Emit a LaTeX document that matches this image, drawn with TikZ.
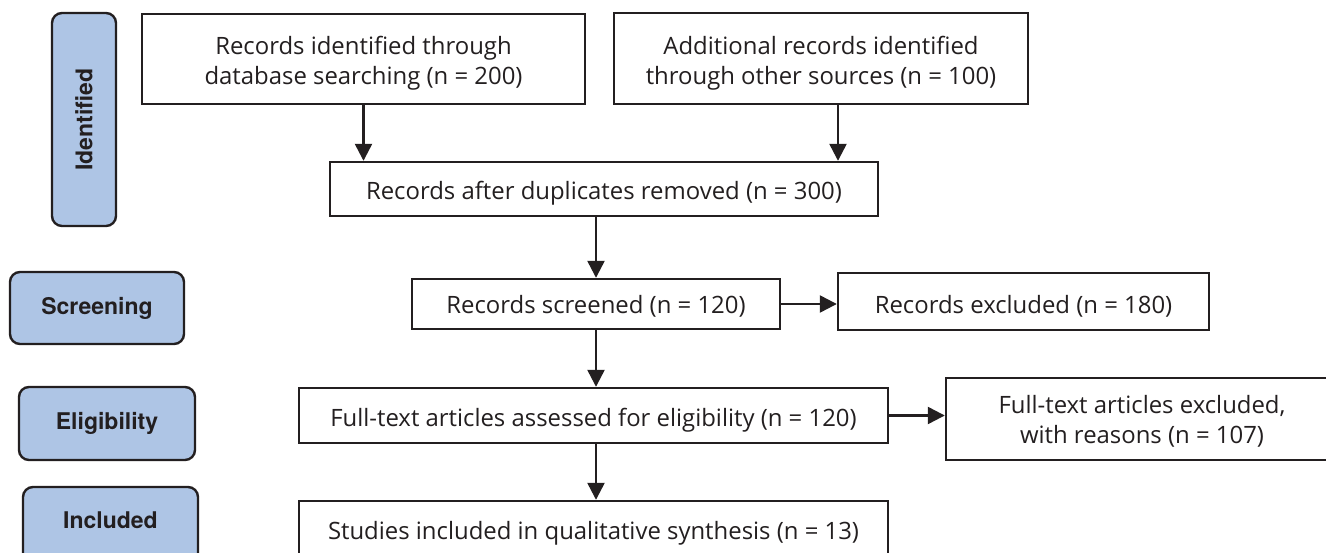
\documentclass[tikz,border=0pt]{standalone}
\usepackage{fontspec}
\setmainfont{Open Sans}
\newfontfamily\stagefont{TeX Gyre Heros}
\usetikzlibrary{arrows.meta}
\definecolor{ln}{HTML}{231F20}
\definecolor{side}{HTML}{AEC5E5}
\begin{document}
\begin{tikzpicture}[x=1pt,y=-1pt,
  box/.style={draw=ln, line width=2.4pt, fill=white, inner sep=0pt},
  txt/.style={align=center, text=ln, font=\fontsize{23.9}{30}\selectfont, inner sep=0pt, yshift=-4.5pt},
  stage/.style={draw=ln, line width=2.4pt, fill=side, rounded corners=10pt, inner sep=0pt},
  stagetext/.style={text=ln, font=\stagefont\fontsize{23}{26}\selectfont\bfseries, inner sep=0pt},
  arr/.style={draw=ln, line width=2.4pt, -{Triangle[length=17pt,width=17pt]}}]
\useasboundingbox (0,0) rectangle (1326,553);
\clip (0,0) rectangle (1326,553);
% stage labels
\node[stage, minimum width=64pt, minimum height=213pt] (s1) at (84,119.5) {};
\node[stagetext, rotate=90] (s1t) at (s1.center) {Identified};
\node[stage, minimum width=174pt, minimum height=72pt] (s2) at (97,308) {};
\node[stagetext] (s2t) at (s2.center) {Screening};
\node[stage, minimum width=176pt, minimum height=73pt] (s3) at (107,423.5) {};
\node[stagetext] (s3t) at (s3.center) {Eligibility};
\node[stage, minimum width=175pt, minimum height=80pt] (s4) at (110.5,527) {};
\node[stagetext] (s4t) at (110.5,520) {Included};
% boxes
\node[box, minimum width=443pt, minimum height=90pt] (A) at (363.5,59) {};
\node[txt] (At) at (A.center) {Records identified through\\database searching (n = 200)};
\node[box, minimum width=414pt, minimum height=91pt] (B) at (821,58.5) {};
\node[txt] (Bt) at (B.center) {Additional records identified\\through other sources (n = 100)};
\node[box, minimum width=548pt, minimum height=54pt] (C) at (604,189) {};
\node[txt] (Ct) at (C.center) {Records after duplicates removed (n = 300)};
\node[box, minimum width=368pt, minimum height=50pt] (D) at (596,304) {};
\node[txt] (Dt) at (596,301.5) {Records screened (n = 120)};
\node[box, minimum width=371pt, minimum height=57pt] (X) at (1023.5,301.5) {};
\node[txt] (Xt) at (X.center) {Records excluded (n = 180)};
\node[box, minimum width=589pt, minimum height=55pt] (E) at (593.5,415.5) {};
\node[txt] (Et) at (E.center) {Full-text articles assessed for eligibility (n = 120)};
\node[box, minimum width=384pt, minimum height=82pt] (Y) at (1138,419) {};
\node[txt] (Yt) at (1142,417) {Full-text articles excluded,\\with reasons (n = 107)};
\node[box, minimum width=589pt, minimum height=60pt] (F) at (593.5,531) {};
\node[txt] (Ft) at (593.5,529) {Studies included in qualitative synthesis (n = 13)};
% connectors
\draw[arr] (A.south) -- (A.south |- C.north);
\draw[arr] ([xshift=17pt]B.south) -- ([xshift=17pt]B.south |- C.north);
\draw[arr] (C.south -| D.north) -- (D.north);
\draw[arr] (D.south) -- (D.south |- E.north);
\draw[arr] (E.south -| D.south) -- (F.north -| D.south);
\draw[arr] (D.east) -- (D.east -| X.west);
\draw[arr] (E.east) -- (E.east -| Y.west);
\end{tikzpicture}
\end{document}
